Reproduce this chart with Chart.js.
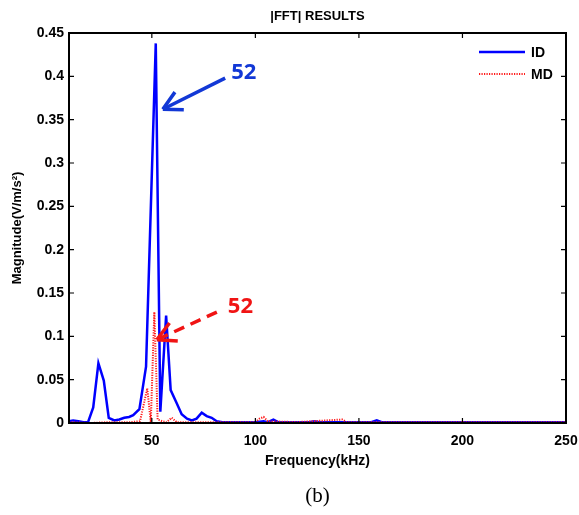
<!DOCTYPE html>
<html>
<head>
<meta charset="UTF-8">
<title>|FFT| RESULTS</title>
<script src="https://cdn.jsdelivr.net/npm/chart.js@4.4.0/dist/chart.umd.min.js"></script>
<style>
  body { margin: 0; background: #fff; }
  canvas { display: block; }
</style>
</head>
<body>
<canvas id="fftChart" width="579" height="515"></canvas>
<script>
// ID spectrum: frequency (kHz) / magnitude
const freqID = [10, 12, 14.5, 17, 19.2, 21.7, 24.2, 26.8, 29.2, 31.9, 34.3, 36.7, 39, 41, 44, 47.2,
  51.9, 54.1, 56.9, 59.1, 61.8, 64.4, 67, 69.3, 71.6, 74.1, 76.5, 78.9, 81.3, 84, 90, 100, 104, 106,
  108.7, 111, 126, 128.5, 131, 156, 158.6, 161, 200, 250];
const magID = [0.002, 0.003, 0.002, 0.001, 0.001, 0.018, 0.069, 0.049, 0.006, 0.003, 0.004, 0.006, 0.007, 0.009, 0.016, 0.065,
  0.438, 0.013, 0.124, 0.038, 0.024, 0.010, 0.005, 0.003, 0.005, 0.012, 0.008, 0.006, 0.002, 0.001, 0.001, 0.001, 0.002, 0.001,
  0.004, 0.001, 0.001, 0.002, 0.001, 0.001, 0.003, 0.001, 0.001, 0.001];

// MD spectrum
const freqMD = [10, 20, 30, 40, 44.3, 45.5, 47.8, 49.5, 51.2, 52.8, 55, 57, 59.6, 62, 100, 102, 104, 106, 120, 142, 144, 250];
const magMD = [0.001, 0.0, 0.001, 0.001, 0.002, 0.015, 0.040, 0.001, 0.128, 0.004, 0.002, 0.001, 0.006, 0.001, 0.001, 0.005, 0.007, 0.002, 0.001, 0.004, 0.001, 0.001];

const xTicks = [50, 100, 150, 200, 250];
const yTicks = [0, 0.05, 0.1, 0.15, 0.2, 0.25, 0.3, 0.35, 0.4, 0.45];

const AXIS_FONT = 'bold 14px "Liberation Sans", Arial, sans-serif';

// arrows pointing at the 52 kHz peaks (data coordinates)
const callouts = [
  { text: '52', color: '#1238d6', dash: [], tail: [85.4, 0.398], tip: [55.3, 0.362], label: [88.3, 0.397] },
  { text: '52', color: '#f01414', dash: [11, 7], tail: [81.4, 0.128], tip: [52.4, 0.096], label: [86.7, 0.127] }
];

function pairs(xs, ys) {
  return xs.map((x, i) => ({ x: x, y: ys[i] }));
}

const extras = {
  id: 'extras',
  afterDraw(chart) {
    const { ctx, chartArea: a, scales: { x, y } } = chart;
    ctx.save();

    // frame
    ctx.strokeStyle = '#000';
    ctx.lineWidth = 2;
    ctx.strokeRect(a.left, a.top, a.right - a.left, a.bottom - a.top);

    // inward ticks on all four sides
    ctx.lineWidth = 1.2;
    ctx.beginPath();
    xTicks.forEach(v => {
      const px = x.getPixelForValue(v);
      ctx.moveTo(px, a.bottom); ctx.lineTo(px, a.bottom - 5);
      ctx.moveTo(px, a.top); ctx.lineTo(px, a.top + 5);
    });
    yTicks.forEach(v => {
      const py = y.getPixelForValue(v);
      ctx.moveTo(a.left, py); ctx.lineTo(a.left + 5, py);
      ctx.moveTo(a.right, py); ctx.lineTo(a.right - 5, py);
    });
    ctx.stroke();

    // title and caption
    ctx.fillStyle = '#000';
    ctx.textAlign = 'center';
    ctx.textBaseline = 'middle';
    ctx.font = 'bold 13px "Liberation Sans", Arial, sans-serif';
    ctx.fillText('|FFT| RESULTS', (a.left + a.right) / 2, 16);
    ctx.font = '21px "Liberation Serif", "Times New Roman", serif';
    ctx.fillText('(b)', (a.left + a.right) / 2, 496);

    // legend
    ctx.textAlign = 'left';
    ctx.font = AXIS_FONT;
    chart.data.datasets.forEach((ds, i) => {
      const ly = a.top + 19 + i * 22;
      ctx.strokeStyle = ds.borderColor;
      ctx.lineWidth = ds.borderWidth;
      ctx.setLineDash(ds.borderDash || []);
      ctx.beginPath();
      ctx.moveTo(a.right - 87, ly);
      ctx.lineTo(a.right - 41, ly);
      ctx.stroke();
      ctx.setLineDash([]);
      ctx.fillStyle = '#000';
      ctx.fillText(ds.label, a.right - 35, ly + 1);
    });

    // callout arrows
    callouts.forEach(c => {
      const tx = x.getPixelForValue(c.tail[0]), ty = y.getPixelForValue(c.tail[1]);
      const hx = x.getPixelForValue(c.tip[0]), hy = y.getPixelForValue(c.tip[1]);
      const ang = Math.atan2(ty - hy, tx - hx);
      ctx.strokeStyle = c.color;
      ctx.lineWidth = 3.5;
      ctx.lineCap = 'butt';
      ctx.setLineDash(c.dash);
      ctx.beginPath();
      ctx.moveTo(tx, ty);
      ctx.lineTo(hx, hy);
      ctx.stroke();
      ctx.setLineDash([]);
      ctx.beginPath();
      [-0.49, 0.49].forEach(d => {
        ctx.moveTo(hx, hy);
        ctx.lineTo(hx + 21 * Math.cos(ang + d), hy + 21 * Math.sin(ang + d));
      });
      ctx.stroke();
      ctx.fillStyle = c.color;
      ctx.font = 'bold 22px "Open Sans", sans-serif';
      ctx.textBaseline = 'alphabetic';
      ctx.fillText(c.text, x.getPixelForValue(c.label[0]), y.getPixelForValue(c.label[1]));
      ctx.textBaseline = 'middle';
    });

    ctx.restore();
  }
};

new Chart(document.getElementById('fftChart'), {
  type: 'line',
  data: {
    datasets: [
      {
        label: 'ID',
        data: pairs(freqID, magID),
        borderColor: '#0000ff',
        borderWidth: 2.5,
        pointRadius: 0,
        tension: 0,
        order: 1
      },
      {
        label: 'MD',
        data: pairs(freqMD, magMD),
        borderColor: '#ff1a1a',
        borderWidth: 2,
        borderDash: [1.2, 1.3],
        pointRadius: 0,
        tension: 0,
        order: 0
      }
    ]
  },
  options: {
    responsive: false,
    animation: false,
    layout: { padding: { top: 33, right: 13, bottom: 0, left: 0 } },
    plugins: { legend: { display: false }, tooltip: { enabled: false } },
    scales: {
      x: {
        type: 'linear',
        min: 10,
        max: 250,
        afterBuildTicks: s => { s.ticks = xTicks.map(v => ({ value: v })); },
        afterFit: s => { s.height = 92; s.paddingLeft = 0; s.paddingRight = 0; },
        grid: { display: false, drawTicks: false },
        border: { display: false },
        ticks: { color: '#000', font: { family: '"Liberation Sans", Arial', size: 14, weight: 'bold' }, padding: 10, maxRotation: 0, autoSkip: false },
        title: { display: true, text: 'Frequency(kHz)', color: '#000', font: { family: '"Liberation Sans", Arial', size: 14, weight: 'bold' }, padding: { top: 0, bottom: 45 } }
      },
      y: {
        min: 0,
        max: 0.45,
        afterBuildTicks: s => { s.ticks = yTicks.map(v => ({ value: v })); },
        afterFit: s => { s.width = 69; s.paddingTop = 0; s.paddingBottom = 0; },
        grid: { display: false, drawTicks: false },
        border: { display: false },
        ticks: { color: '#000', font: { family: '"Liberation Sans", Arial', size: 14, weight: 'bold' }, padding: 5, callback: v => String(Number(v.toFixed(2))) },
        title: { display: true, text: 'Magnitude(V/m/s²)', color: '#000', font: { family: '"Liberation Sans", Arial', size: 13, weight: 'bold' }, padding: { top: 10, bottom: 0 } }
      }
    }
  },
  plugins: [extras]
});
</script>
</body>
</html>
